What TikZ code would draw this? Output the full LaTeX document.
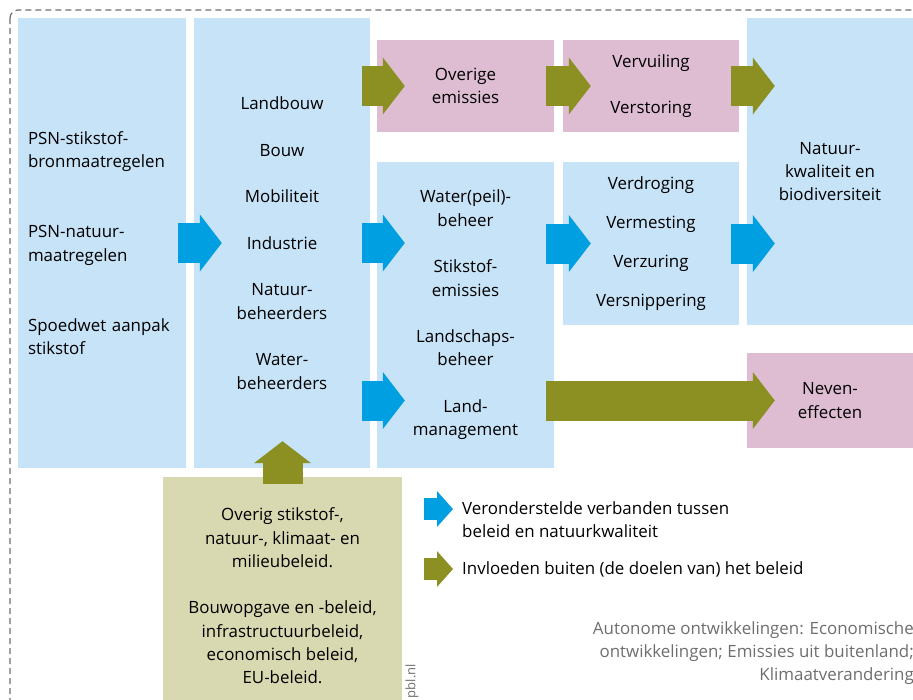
\documentclass[tikz,border=0pt]{standalone}
\usepackage{fontspec}
\setmainfont{Open Sans}
\usetikzlibrary{arrows.meta}

\definecolor{lichtblauw}{RGB}{199,227,247}
\definecolor{roze}{RGB}{222,189,211}
\definecolor{lichtolijf}{RGB}{216,217,177}
\definecolor{pijlb}{RGB}{0,159,225}
\definecolor{pijlo}{RGB}{140,144,35}
\definecolor{grijs}{RGB}{110,110,110}

\begin{document}
\begin{tikzpicture}[x=1pt, y=-1pt, font={\fontsize{16.9pt}{23.3pt}\selectfont}]
        \tikzstyle{blok} = [rectangle, fill=lichtblauw, inner sep=0pt, align=center]
        \tikzstyle{roos} = [rectangle, fill=roze, inner sep=0pt, align=center]
        \tikzstyle{pijlblauw} = [line width=40pt, draw=pijlb, -{Triangle[length=22pt,width=56pt]}]
        \tikzstyle{pijlolijf} = [line width=40pt, draw=pijlo, -{Triangle[length=22pt,width=56pt]}]
        \tikzstyle{gat} = [shorten <=-8pt, shorten >=-28pt]

        \useasboundingbox (0,0) rectangle (913,699);
        \draw[grijs, line width=1.2pt, dash pattern=on 6pt off 4pt, rounded corners=8pt] (10,10) rectangle (940,730);

        % Blokken
        \node[blok, text width=148pt, inner xsep=10pt, minimum height=450pt, align=left] (maatregelen) at (102,243)
            {PSN-stikstof-\\bronmaatregelen\\[47pt]PSN-natuur-\\maatregelen\\[47pt]Spoedwet aanpak\\stikstof};
        \node[blok, minimum width=176pt, minimum height=450pt] (sectoren) at (282,243)
            {Landbouw\\[23.3pt]Bouw\\[23.3pt]Mobiliteit\\[23.3pt]Industrie\\[23.3pt]Natuur-\\beheerders\\[23.3pt]Water-\\beheerders};
        \node[roos, minimum width=177pt, minimum height=92pt] (overige) at (465.5,86) {Overige\\emissies};
        \node[roos, minimum width=176pt, minimum height=92pt] (storing) at (651,86) {Vervuiling\\[23pt]Verstoring};
        \node[blok, minimum width=166pt, minimum height=307pt] (natuur) at (830,171.5) {Natuur-\\kwaliteit en\\biodiversiteit};
        \node[blok, minimum width=177pt, minimum height=306pt] (beheer) at (465.5,315)
            {Water(peil)-\\beheer\\[23.3pt]Stikstof-\\emissies\\[23.3pt]Landschaps-\\beheer\\[23.3pt]Land-\\management};
        \node[blok, minimum width=176pt, minimum height=163pt] (effecten) at (651,243.5)
            {Verdroging\\[15.7pt]Vermesting\\[15.7pt]Verzuring\\[15.7pt]Versnippering};
        \node[roos, minimum width=166pt, minimum height=95pt] (neven) at (830,400.5) {Neven-\\effecten};
        \node[rectangle, fill=lichtolijf, inner sep=0pt, align=center, minimum width=239pt, minimum height=238pt] (beleid) at (282.5,596)
            {Overig stikstof-,\\natuur-, klimaat- en\\milieubeleid.\\[23pt]Bouwopgave en -beleid,\\infrastructuurbeleid,\\economisch beleid,\\EU-beleid.};

        % Pijlen
        \draw[pijlblauw, gat] (maatregelen.east) -- (sectoren.west);
        \draw[pijlblauw, gat] (sectoren.east) -- (sectoren.east -| beheer.west);
        \draw[pijlblauw, gat] (sectoren.east |- neven.west) -- (beheer.west |- neven.west);
        \draw[pijlblauw, gat] (beheer.east |- effecten.west) -- (effecten.west);
        \draw[pijlblauw, gat] (effecten.east) -- (effecten.east -| natuur.west);
        \draw[pijlolijf, gat] (sectoren.east |- overige.west) -- (overige.west);
        \draw[pijlolijf, gat] (overige.east) -- (storing.west);
        \draw[pijlolijf, gat] (storing.east) -- (storing.east -| natuur.west);
        \draw[pijlolijf, gat] (beheer.east |- neven.west) -- (neven.west);
        \draw[pijlolijf, shorten <=-7pt, shorten >=-27pt] (beleid.north) -- (beleid.north |- sectoren.south);

        % Legenda
        \coordinate (legb) at (424,509);
        \coordinate (lego) at (424,569);
        \draw[line width=22pt, draw=pijlb, -{Triangle[length=16pt,width=35pt]}] (legb) -- ++(29,0);
        \draw[line width=22pt, draw=pijlo, -{Triangle[length=16pt,width=35pt]}] (lego) -- ++(29,0);
        \node[anchor=west, align=left, inner sep=0pt] (legbtekst) at (462,520) {Veronderstelde verbanden tussen\\beleid en natuurkwaliteit};
        \node[anchor=west, inner sep=0pt] (legotekst) at (462,569) {Invloeden buiten (de doelen van) het beleid};
        \node[anchor=east, align=right, inner sep=0pt, text=grijs] (autonoom) at (914,653)
            {Autonome ontwikkelingen: Economische\\ontwikkelingen; Emissies uit buitenland;\\Klimaatverandering};
        \node[rotate=90, anchor=east, inner sep=0pt, text=grijs, font=\fontsize{13pt}{15pt}\selectfont] (bron) at (412,664) {pbl.nl};
    \end{tikzpicture}
\end{document}
